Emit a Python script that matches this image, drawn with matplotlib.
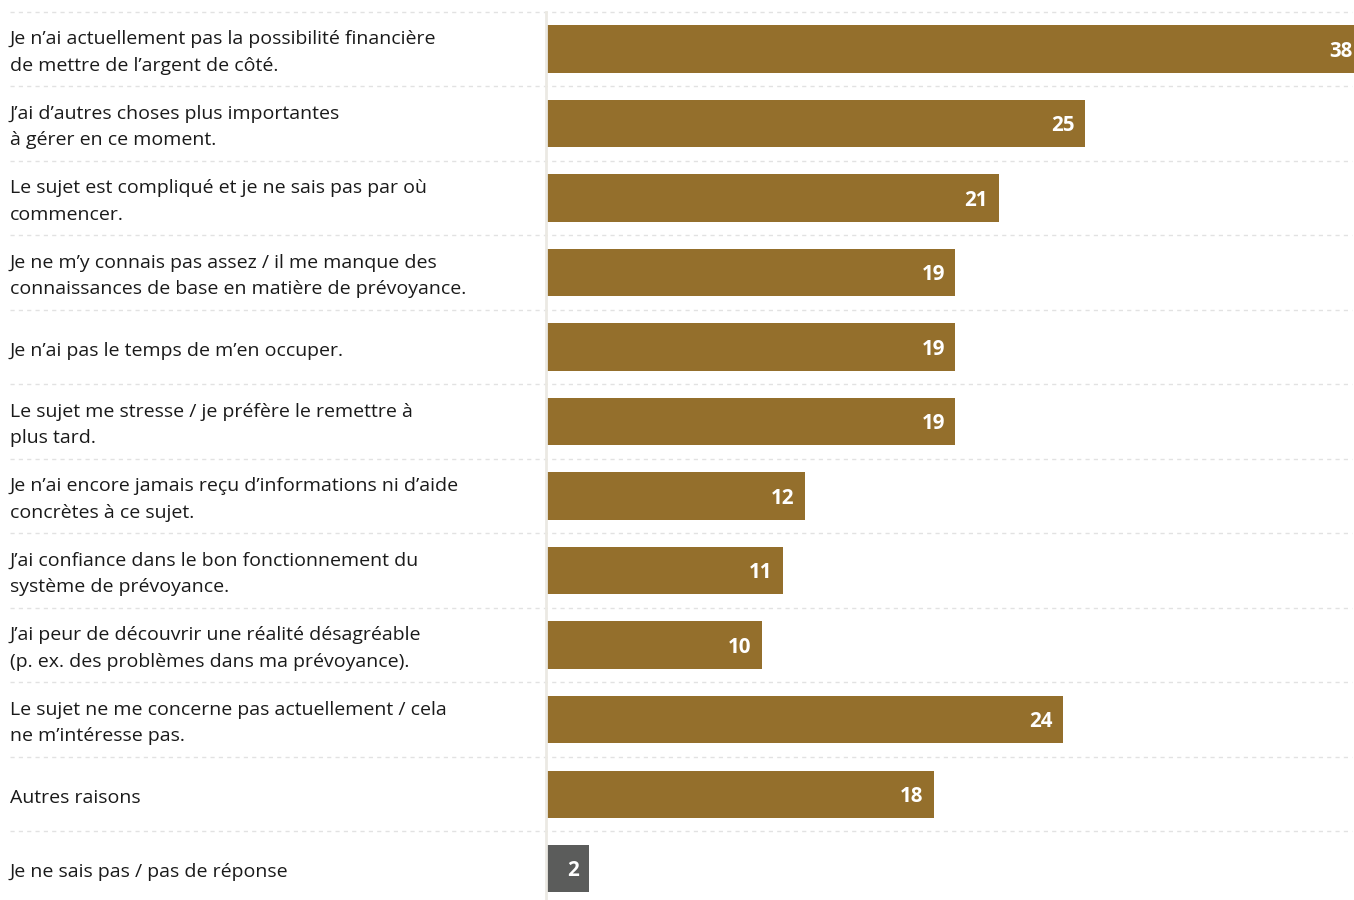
import matplotlib
matplotlib.use("Agg")
import matplotlib.pyplot as plt
from matplotlib.transforms import blended_transform_factory, offset_copy

plt.rcParams["font.family"] = ["Open Sans", "DejaVu Sans"]

reasons = [
    "Je n’ai actuellement pas la possibilité financière\nde mettre de l’argent de côté.",
    "J’ai d’autres choses plus importantes\nà gérer en ce moment.",
    "Le sujet est compliqué et je ne sais pas par où\ncommencer.",
    "Je ne m’y connais pas assez / il me manque des\nconnaissances de base en matière de prévoyance.",
    "Je n’ai pas le temps de m’en occuper.",
    "Le sujet me stresse / je préfère le remettre à\nplus tard.",
    "Je n’ai encore jamais reçu d’informations ni d’aide\nconcrètes à ce sujet.",
    "J’ai confiance dans le bon fonctionnement du\nsystème de prévoyance.",
    "J’ai peur de découvrir une réalité désagréable\n(p. ex. des problèmes dans ma prévoyance).",
    "Le sujet ne me concerne pas actuellement / cela\nne m’intéresse pas.",
    "Autres raisons",
    "Je ne sais pas / pas de réponse",
]
shares = [38, 25, 21, 19, 19, 19, 12, 11, 10, 24, 18, 2]
no_answer = [False] * 11 + [True]

GOLD = "#946f2c"
GREY = "#5b5c5b"

fig = plt.figure(figsize=(13.54, 9), dpi=100, facecolor="white")
W, H = 1354, 900
ax = fig.add_axes([546 / W, 0, 1 - 546 / W, 1 - 11.75 / H])

ypos = list(range(len(shares)))
colors = [GREY if n else GOLD for n in no_answer]
bars = ax.barh(ypos, shares, height=0.635, color=colors, zorder=2)

xmax = 808 / 21.55
ax.set_xlim(0, xmax)
ax.set_ylim(11.42, -0.5)
ax.set_xticks([])
ax.set_yticks([])
for side in ["top", "right", "bottom"]:
    ax.spines[side].set_visible(False)
ax.spines["left"].set_color("#ebe9e3")
ax.spines["left"].set_linewidth(2)
ax.spines["left"].set_zorder(3)

# value labels inside the bar ends (bars running past the edge get theirs at the edge)
for bar, val in zip(bars, shares):
    clipped = val > xmax
    ax.annotate(str(val), xy=(min(val, xmax), bar.get_y() + bar.get_height() / 2),
                xytext=(-1 if clipped else -7.5, -1.5), textcoords="offset points",
                ha="right", va="center", color="white", fontsize=14.8,
                fontweight="bold", annotation_clip=False, zorder=3)

# dashed row separators across the full figure width
tr = blended_transform_factory(fig.transFigure, ax.transData)
for i in range(len(shares)):
    ax.plot([10 / W, 1352 / W], [i - 0.5, i - 0.5], transform=tr,
            color="#e2e2e2", lw=1, ls=(0, (3, 3)), clip_on=False, zorder=1)

# category texts on the left
tr_text = offset_copy(tr, fig=fig, x=0, y=-3.5, units="dots")
for y, txt in zip(ypos, reasons):
    ax.text(10 / W, y, txt, transform=tr_text, ha="left", va="center",
            fontsize=14.0, color="#1a1a1a", linespacing=1.6)

fig.savefig("out.png", dpi=100, facecolor="white")
plt.close(fig)
